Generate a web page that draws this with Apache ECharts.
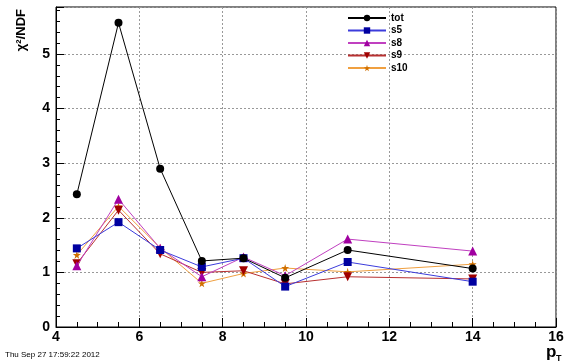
<!DOCTYPE html>
<html><head><meta charset="utf-8">
<script src="https://cdn.jsdelivr.net/npm/echarts@6/dist/echarts.min.js"></script>
<style>html,body{margin:0;padding:0;background:#fff}#c{width:567px;height:364px}</style>
</head><body><div id="c"></div>
<script>
const ptBins = [4.5, 5.5, 6.5, 7.5, 8.5, 9.5, 11, 14];
const totVals = [2.43, 5.57, 2.90, 1.21, 1.26, 0.90, 1.41, 1.07];
const s5Vals  = [1.44, 1.92, 1.41, 1.10, 1.26, 0.74, 1.19, 0.83];
const s8Vals  = [1.12, 2.34, 1.44, 0.92, 1.28, 0.94, 1.61, 1.39];
const s9Vals  = [1.16, 2.14, 1.34, 1.00, 1.03, 0.79, 0.92, 0.88];
const s10Vals = [1.32, 2.21, 1.45, 0.80, 0.98, 1.08, 1.01, 1.15];
const seriesNames = ['tot', 's5', 's8', 's9', 's10'];
const xTicks = [4, 6, 8, 10, 12, 14, 16];
const yTicks = [0, 1, 2, 3, 4, 5];

const star = 'path://M50,0 L61,35 L98,35 L68,57 L79,91 L50,70 L21,91 L32,57 L2,35 L39,35 Z';
const styles = [
  {line:'#000000', mark:'#000000', symbol:'circle', size:8, rot:0},
  {line:'#3c3cdc', mark:'#0000a0', symbol:'rect', size:8, rot:0},
  {line:'#c040c0', mark:'#a000a0', symbol:'triangle', size:9, rot:0},
  {line:'#b83030', mark:'#a00000', symbol:'triangle', size:9, rot:180},
  {line:'#f0a040', mark:'#d07000', symbol:star, size:8, rot:0}
];
const allVals = [totVals, s5Vals, s8Vals, s9Vals, s10Vals];

const series = seriesNames.map((n, i) => ({
  name: n, type: 'line',
  data: ptBins.map((x, j) => [x, allVals[i][j]]),
  symbol: styles[i].symbol, symbolSize: styles[i].size, symbolRotate: styles[i].rot,
  lineStyle: {color: styles[i].line, width: 1},
  itemStyle: {color: styles[i].mark},
  showSymbol: true, animation: false, z: 10 - i
}));

const chart = echarts.init(document.getElementById('c'), null, {renderer: 'canvas'});
const font = 'Liberation Sans, Arial, sans-serif';
chart.setOption({
  animation: false,
  backgroundColor: '#fff',
  grid: {left: 56, right: 11, top: 7, bottom: 37, show: true, borderColor: '#000', borderWidth: 1},
  legend: {
    data: seriesNames, orient: 'vertical', left: 347, top: 13, padding: 0,
    itemWidth: 38, itemHeight: 8, itemGap: 2.5,
    textStyle: {fontFamily: font, fontWeight: 'bold', fontSize: 10, color: '#000', padding: [0,0,0,0]}
  },
  xAxis: {
    type: 'value', min: xTicks[0], max: xTicks[xTicks.length - 1], interval: 2,
    axisLine: {lineStyle: {color: '#000'}},
    axisTick: {inside: true, length: 9, lineStyle: {color: '#000'}},
    minorTick: {show: true, splitNumber: 4, length: 5, lineStyle: {color: '#000'}},
    splitLine: {show: true, lineStyle: {color: '#999', type: [2, 2], width: 1}},
    axisLabel: {fontFamily: font, fontWeight: 'bold', fontSize: 14, color: '#000', margin: 3}
  },
  yAxis: {
    type: 'value', min: 0, max: 5.86, interval: 1,
    axisLine: {lineStyle: {color: '#000'}},
    axisTick: {inside: true, length: 8, lineStyle: {color: '#000'}},
    minorTick: {show: true, splitNumber: 5, length: 4, lineStyle: {color: '#000'}},
    splitLine: {show: true, lineStyle: {color: '#999', type: [2, 2], width: 1}},
    axisLabel: {fontFamily: font, fontWeight: 'bold', fontSize: 14, color: '#000', margin: 6, showMaxLabel: false,
      formatter: v => yTicks.includes(v) ? String(v) : ''}
  },
  graphic: [
    {type: 'text', x: 28, y: 9, rotation: Math.PI / 2,
      style: {text: 'χ²/NDF', font: 'bold 13px Liberation Sans, Arial', fill: '#000', align: 'right', verticalAlign: 'bottom'}},
    {type: 'text', left: 5, top: 351, style: {text: 'Thu Sep 27 17:59:22 2012', font: '8px Liberation Sans, Arial', fill: '#000'}},
    {type: 'group', left: 546, top: 344, children: [
      {type: 'text', style: {text: 'p', font: 'bold 17px Liberation Sans, Arial', fill: '#000', x: 0, y: 0}},
      {type: 'text', style: {text: 'T', font: 'bold 9px Liberation Sans, Arial', fill: '#000', x: 10, y: 10}}
    ]}
  ],
  series: series
});
</script></body></html>
